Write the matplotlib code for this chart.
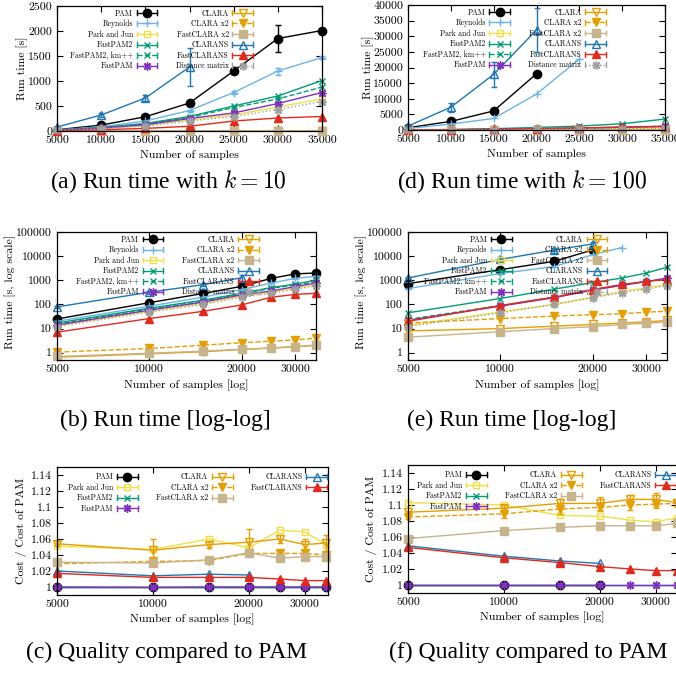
import matplotlib
matplotlib.use('Agg')
import matplotlib.pyplot as plt
from matplotlib.lines import Line2D
from matplotlib.legend_handler import HandlerLine2D
from matplotlib.ticker import LogLocator, NullLocator, NullFormatter

plt.rcParams['font.family'] = 'cmr10'
plt.rcParams['mathtext.fontset'] = 'cm'
plt.rcParams['axes.unicode_minus'] = False
plt.rcParams['axes.formatter.use_mathtext'] = True

samples = [5000, 10000, 15000, 20000, 25000, 30000, 35000]

# run time [s], k = 10
t10_pam = [25, 118, 285, 560, 1200, 1850, 2010]
t10_reynolds = [20, 85, 200, 410, 770, 1200, 1470]
t10_parkjun = [13, 52, 110, 220, 320, 480, 640]
t10_fastpam2 = [17, 70, 150, 290, 500, 700, 1010]
t10_fastpam2_km = [15, 65, 140, 270, 470, 640, 880]
t10_fastpam = [14, 58, 125, 250, 360, 550, 770]
t10_clara = [0.65, 0.9, 1.1, 1.35, 1.55, 1.75, 2.0]
t10_clara2 = [1.06, 1.5, 2.05, 2.6, 3.0, 3.4, 4.0]
t10_fastclara2 = [0.7, 0.95, 1.17, 1.4, 1.6, 1.8, 2.1]
t10_clarans = [79, 320, 660, 1280]
t10_fastclarans = [7.1, 26, 52, 95, 200, 260, 290]
t10_distmat = [12, 48, 100, 200, 290, 430, 590]
t10_pam_err = [2, 10, 15, 20, 30, 265, 20]
t10_reynolds_err = [1, 5, 10, 20, 30, 70, 30]
t10_clarans_err = [10, 40, 60, 375]

# run time [s], k = 100
t100_pam = [730, 2750, 6100, 18000]
t100_reynolds = [455, 1900, 3700, 11500, 22700]
t100_parkjun = [13.5, 49, 100, 200, 350, 490, 670]
t100_fastpam2 = [45, 176, 430, 800, 1250, 2000, 3500]
t100_fastpam2_km = [24, 90, 200, 400, 640, 900, 1150]
t100_fastpam = [22, 85, 190, 390, 620, 880, 1250]
t100_clara = [8, 10, 12.6, 14.8, 17, 19, 21.7]
t100_clara2 = [17, 26, 33, 38, 41, 48, 52]
t100_fastclara2 = [4.4, 7.4, 10, 12, 14.8, 16.5, 19]
t100_clarans = [1250, 7300, 17800, 32000]
t100_fastclarans = [20, 90, 200, 415, 670, 910, 1070]
t100_distmat = [12, 45, 100, 190, 310, 430, 600]
t100_pam_err = [20, 100, 200, 500]
t100_clarans_err = [100, 1500, 4000, 7000]

# cost / cost of PAM, k = 10
q10_pam = [1, 1, 1, 1, 1, 1, 1]
q10_parkjun = [1.051, 1.047, 1.060, 1.049, 1.071, 1.069, 1.053]
q10_fastpam2 = [1, 1, 1, 1, 1, 1, 1]
q10_fastpam = [1.0, 0.9995, 1.0, 1.0, 1.0, 1.0, 1.0]
q10_clara = [1.054, 1.046, 1.053, 1.056, 1.060, 1.053, 1.055]
q10_clara2 = [1.029, 1.032, 1.033, 1.042, 1.042, 1.042, 1.040]
q10_fastclara2 = [1.031, 1.030, 1.034, 1.043, 1.036, 1.038, 1.038]
q10_clarans = [1.020, 1.014, 1.016, 1.015]
q10_fastclarans = [1.017, 1.012, 1.012, 1.012, 1.010, 1.008, 1.008]
q10_clara_err = [0.003, 0.014, 0.004, 0.017, 0.005, 0.007, 0.010]

# cost / cost of PAM, k = 100
q100_pam = [1, 1, 1, 1]
q100_parkjun = [1.103, 1.100, 1.087, 1.086, 1.081, 1.079, 1.084]
q100_fastpam2 = [1, 1, 1, 1, 1, 1, 1]
q100_fastpam = [1, 1, 1, 1, 1, 1, 1]
q100_clara = [1.091, 1.096, 1.102, 1.102, 1.107, 1.107, 1.103]
q100_clara2 = [1.085, 1.089, 1.095, 1.097, 1.100, 1.101, 1.102]
q100_fastclara2 = [1.058, 1.068, 1.072, 1.074, 1.074, 1.074, 1.077]
q100_clarans = [1.049, 1.036, 1.030, 1.027]
q100_fastclarans = [1.047, 1.034, 1.028, 1.023, 1.020, 1.018, 1.018]
q100_clara_err = [0.002, 0.004, 0.005, 0.008, 0.006, 0.008, 0.004]
q100_clara2_err = [0.003, 0.005, 0.006, 0.005, 0.006, 0.005, 0.004]

AST = (8, 2, 0)
# name: color, marker, linestyle, filled, markersize
STYLE = {
    'PAM': ('black', 'o', '-', True, 6),
    'Reynolds': ('#6cb4e4', '+', '-', True, 6),
    'Park and Jun': ('#efe046', 's', '-', False, 5),
    'FastPAM2': ('#009e73', 'x', '-', True, 5),
    'FastPAM2, km++': ('#009e73', 'x', '--', True, 5),
    'FastPAM': ('#8030c0', AST, '-', True, 6),
    'CLARA': ('#e69f00', 'v', '-', False, 6),
    'CLARA x2': ('#e69f00', 'v', '--', True, 6),
    'FastCLARA x2': ('#c8b48a', 's', '-', True, 6),
    'CLARANS': ('#1f78b4', '^', '-', False, 6),
    'FastCLARANS': ('#e3291c', '^', '-', True, 6),
    'Distance matrix': ('#a0a0a0', AST, ':', True, 6),
}


class CapHandler(HandlerLine2D):
    def create_artists(self, legend, orig_handle, xdescent, ydescent,
                       width, height, fontsize, trans):
        arts = super().create_artists(legend, orig_handle, xdescent, ydescent,
                                      width, height, fontsize, trans)
        ym = (height - ydescent) / 2
        h = 0.45 * height
        for x in (-xdescent, -xdescent + width):
            arts.append(Line2D([x, x], [ym - h, ym + h], color=orig_handle.get_color(),
                               lw=orig_handle.get_linewidth(), transform=trans))
        return arts


def draw(ax, series, errs):
    handles = {}
    for name, ys in series:
        c, m, ls, filled, ms = STYLE[name]
        xs = samples[:len(ys)]
        ln, = ax.plot(xs, ys, color=c, marker=m, ls=ls, lw=1.0, ms=ms, mew=1.0,
                      mfc=c if filled else 'none', mec=c, clip_on=False)
        if name in errs:
            ax.errorbar(xs, ys, yerr=errs[name], fmt='none', ecolor=c,
                        elinewidth=1.0, capsize=2.5, clip_on=False)
        handles[name] = ln
    return handles


def legend(ax, handles, order, ncol, anchor):
    hs, labs = [], []
    hmap = {}
    for name in order:
        if name is None:
            hs.append(Line2D([], [], ls='none'))
            labs.append(' ')
        else:
            hs.append(handles[name])
            labs.append(name)
            hmap[handles[name]] = CapHandler(numpoints=1)
    ax.legend(hs, labs, ncol=ncol, loc='upper right', bbox_to_anchor=anchor,
              frameon=False, markerfirst=False, fontsize=5.5, handlelength=2.7,
              handletextpad=0.5, columnspacing=2.4, labelspacing=0.28,
              borderaxespad=0, borderpad=0, handler_map=hmap)


def style_axes(ax, xlab, ylab, xl, yl):
    ax.tick_params(which='both', direction='in', top=True, right=True, labelsize=8.5)
    ax.tick_params(which='major', length=4, width=0.8, pad=3.5)
    ax.tick_params(which='minor', length=2, width=0.6)
    for s in ax.spines.values():
        s.set_linewidth(0.9)
    ax.set_xlabel(xlab, fontsize=8.5, va='center')
    ax.set_ylabel(ylab, fontsize=8.5, va='center')
    ax.xaxis.set_label_coords(*xl)
    ax.yaxis.set_label_coords(*yl)


W, H = 676, 674
fig = plt.figure(figsize=(W / 100, H / 100), dpi=100)


def add_axes(l, r, t, b):
    return fig.add_axes([l / W, 1 - b / H, (r - l) / W, (b - t) / H])


lin_ticks = [5000, 10000, 15000, 20000, 25000, 30000, 35000]
log_ticks = [5000, 10000, 20000, 30000]
ylog_ticks = [1, 10, 100, 1000, 10000, 100000]
q_ticks = [1, 1.02, 1.04, 1.06, 1.08, 1.1, 1.12, 1.14]
q_labels = ['1', '1.02', '1.04', '1.06', '1.08', '1.1', '1.12', '1.14']

run10 = [('PAM', t10_pam), ('Reynolds', t10_reynolds), ('Park and Jun', t10_parkjun),
         ('FastPAM2', t10_fastpam2), ('FastPAM2, km++', t10_fastpam2_km),
         ('FastPAM', t10_fastpam), ('CLARA', t10_clara), ('CLARA x2', t10_clara2),
         ('FastCLARA x2', t10_fastclara2), ('CLARANS', t10_clarans),
         ('FastCLARANS', t10_fastclarans), ('Distance matrix', t10_distmat)]
err10 = {'PAM': t10_pam_err, 'Reynolds': t10_reynolds_err, 'CLARANS': t10_clarans_err}
run100 = [('PAM', t100_pam), ('Reynolds', t100_reynolds), ('Park and Jun', t100_parkjun),
          ('FastPAM2', t100_fastpam2), ('FastPAM2, km++', t100_fastpam2_km),
          ('FastPAM', t100_fastpam), ('CLARA', t100_clara), ('CLARA x2', t100_clara2),
          ('FastCLARA x2', t100_fastclara2), ('CLARANS', t100_clarans),
          ('FastCLARANS', t100_fastclarans), ('Distance matrix', t100_distmat)]
err100 = {'PAM': t100_pam_err, 'CLARANS': t100_clarans_err}
run_order = [n for n, _ in run10]

q10 = [('PAM', q10_pam), ('Park and Jun', q10_parkjun), ('FastPAM2', q10_fastpam2),
       ('FastPAM', q10_fastpam), ('CLARA', q10_clara), ('CLARA x2', q10_clara2),
       ('FastCLARA x2', q10_fastclara2), ('CLARANS', q10_clarans),
       ('FastCLARANS', q10_fastclarans)]
q100 = [('PAM', q100_pam), ('Park and Jun', q100_parkjun), ('FastPAM2', q100_fastpam2),
        ('FastPAM', q100_fastpam), ('CLARA', q100_clara), ('CLARA x2', q100_clara2),
        ('FastCLARA x2', q100_fastclara2), ('CLARANS', q100_clarans),
        ('FastCLARANS', q100_fastclarans)]
q_order = ['PAM', 'Park and Jun', 'FastPAM2', 'FastPAM', 'CLARA', 'CLARA x2',
           'FastCLARA x2', None, 'CLARANS', 'FastCLARANS', None, None]

# (a) linear, k = 10
ax = add_axes(57, 322, 6, 131)
h = draw(ax, run10, err10)
ax.set_xlim(5000, 35000)
ax.set_ylim(0, 2500)
ax.set_xticks(lin_ticks, [str(v) for v in lin_ticks])
ax.set_yticks(range(0, 2501, 500), [str(v) for v in range(0, 2501, 500)])
style_axes(ax, 'Number of samples', 'Run time [s]', (0.5, -0.19), (-0.13, 0.5))
legend(ax, h, run_order, 2, (0.74, 0.975))

# (d) linear, k = 100
ax = add_axes(408, 665, 5, 130)
h = draw(ax, run100, err100)
ax.set_xlim(5000, 35000)
ax.set_ylim(0, 40000)
ax.set_xticks(lin_ticks, [str(v) for v in lin_ticks])
ax.set_yticks(range(0, 40001, 5000), [str(v) for v in range(0, 40001, 5000)])
style_axes(ax, 'Number of samples', 'Run time [s]', (0.5, -0.19), (-0.155, 0.5))
legend(ax, h, run_order, 2, (0.77, 0.975))

# (b) log-log, k = 10
ax = add_axes(57, 316, 232, 360)
h = draw(ax, run10, err10)
ax.set_xscale('log')
ax.set_yscale('log')
ax.set_xlim(5000, 35000)
ax.set_ylim(0.5, 100000)
ax.set_xticks(log_ticks, [str(v) for v in log_ticks])
ax.xaxis.set_minor_locator(NullLocator())
ax.set_yticks(ylog_ticks, [str(v) for v in ylog_ticks])
ax.yaxis.set_minor_locator(LogLocator(subs=range(2, 10)))
ax.yaxis.set_minor_formatter(NullFormatter())
style_axes(ax, 'Number of samples [log]', 'Run time [s, log scale]', (0.5, -0.195), (-0.18, 0.53))
legend(ax, h, run_order, 2, (0.78, 0.975))

# (e) log-log, k = 100
ax = add_axes(408, 667, 232, 360)
h = draw(ax, run100, err100)
ax.set_xscale('log')
ax.set_yscale('log')
ax.set_xlim(5000, 35000)
ax.set_ylim(0.5, 100000)
ax.set_xticks(log_ticks, [str(v) for v in log_ticks])
ax.xaxis.set_minor_locator(NullLocator())
ax.set_yticks(ylog_ticks, [str(v) for v in ylog_ticks])
ax.yaxis.set_minor_locator(LogLocator(subs=range(2, 10)))
ax.yaxis.set_minor_formatter(NullFormatter())
style_axes(ax, 'Number of samples [log]', 'Run time [s, log scale]', (0.5, -0.195), (-0.18, 0.53))
legend(ax, h, run_order, 2, (0.77, 0.975))

# (c) quality, k = 10
ax = add_axes(57, 328, 467, 595)
h = draw(ax, q10, {'CLARA': q10_clara_err})
ax.set_xscale('log')
ax.set_xlim(5000, 35500)
ax.set_ylim(0.99, 1.15)
ax.set_xticks(log_ticks, [str(v) for v in log_ticks])
ax.xaxis.set_minor_locator(NullLocator())
ax.set_yticks(q_ticks, q_labels)
style_axes(ax, 'Number of samples [log]', 'Cost / Cost of PAM', (0.5, -0.19), (-0.13, 0.5))
legend(ax, h, q_order, 3, (0.996, 0.955))

# (f) quality, k = 100
ax = add_axes(408, 677, 465, 593)
h = draw(ax, q100, {'CLARA': q100_clara_err, 'CLARA x2': q100_clara2_err})
ax.set_xscale('log')
ax.set_xlim(5000, 35000)
ax.set_ylim(0.99, 1.15)
ax.set_xticks(log_ticks, [str(v) for v in log_ticks])
ax.xaxis.set_minor_locator(NullLocator())
ax.set_yticks(q_ticks, q_labels)
style_axes(ax, 'Number of samples [log]', 'Cost / Cost of PAM', (0.5, -0.19), (-0.134, 0.5))
legend(ax, h, q_order, 3, (0.996, 0.955))

# captions
caps = [(168, 182, '(a) Run time with $k = 10$'), (522, 182, '(d) Run time with $k = 100$'),
        (165, 420, '(b) Run time [log-log]'), (512, 420, '(e) Run time [log-log]'),
        (167, 652, '(c) Quality compared to PAM'), (528, 652, '(f) Quality compared to PAM')]
for x, y, s in caps:
    fig.text(x / W, 1 - y / H, s, family='Liberation Serif', fontsize=17,
             ha='center', va='center')

fig.savefig('out.png', dpi=100)
